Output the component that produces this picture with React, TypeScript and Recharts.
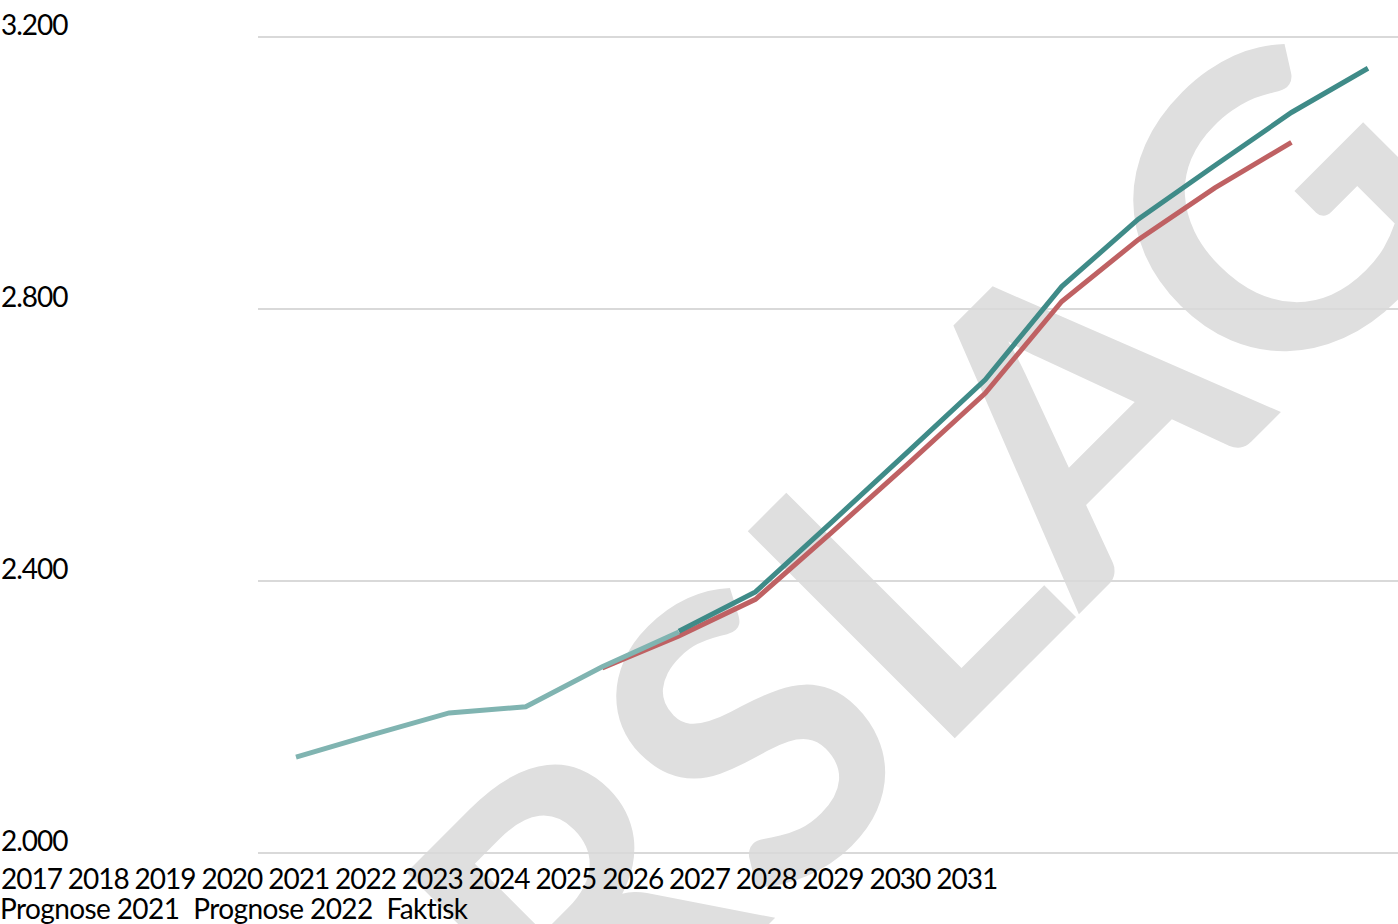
import React from 'react';
import { LineChart, Line, XAxis, YAxis, CartesianGrid, Legend } from 'recharts';

const years = ['2017', '2018', '2019', '2020', '2021', '2022', '2023', '2024', '2025', '2026', '2027', '2028', '2029', '2030', '2031'];
const faktisk: (number | null)[] = [2141, 2174, 2206, 2215, 2274, 2325, null, null, null, null, null, null, null, null, null];
const prognose2021: (number | null)[] = [null, null, null, null, 2272, 2319, 2373, 2472, 2573, 2676, 2811, 2902, 2978, 3045, null];
const prognose2022: (number | null)[] = [null, null, null, null, null, 2326, 2384, 2487, 2591, 2696, 2833, 2932, 3011, 3089, 3154];
const yTicks = [2000, 2400, 2800, 3200];
const seriesNames = ['Prognose 2021', 'Prognose 2022', 'Faktisk'];
const seriesColors = ['#bf6163', '#3f8b88', '#80b4b1'];
const watermark = 'FORSLAG';

const data = years.map((y, i) => ({
  year: y,
  p2021: prognose2021[i],
  p2022: prognose2022[i],
  faktisk: faktisk[i],
}));

const FONT = 'Lato, "Open Sans", sans-serif';

const fmt = (v: number) => String(v).replace(/\B(?=(\d{3})+(?!\d))/g, '.');

const YTick = (props: any) => {
  const { y, payload } = props;
  return (
    <text x={1} y={y - 2} fontFamily={FONT} fontSize={28} letterSpacing={-1} fill="#000">
      {fmt(payload.value)}
    </text>
  );
};

const XTick = (props: any) => {
  const { index, payload } = props;
  return (
    <text x={1 + index * 66.8} y={889} fontFamily={FONT} fontSize={28} letterSpacing={-1} fill="#000">
      {payload.value}
    </text>
  );
};

const LegendContent = (props: any) => {
  const items = [...(props.payload || [])].sort(
    (a: any, b: any) => seriesNames.indexOf(a.value) - seriesNames.indexOf(b.value)
  );
  return (
    <div style={{ fontFamily: FONT, fontSize: 28, letterSpacing: -0.6, whiteSpace: 'nowrap', lineHeight: '31px', color: '#000', textAlign: 'left' }}>
      {items.map((e: any) => (
        <span key={e.value} style={{ marginRight: 14 }}>{e.value}</span>
      ))}
    </div>
  );
};

export default function App() {
  return (
    <div style={{ position: 'absolute', left: 0, top: 0, width: 1398, height: 924, overflow: 'hidden', background: '#fff' }}>
      <svg width={1398} height={924} style={{ position: 'absolute', left: 0, top: 0 }}>
        <text
          x={840}
          y={853}
          transform="rotate(-45 840 853)"
          textAnchor="middle"
          fontFamily={FONT}
          fontWeight={700}
          fontSize={405}
          fill="#dfdfdf"
        >
          {watermark}
        </text>
      </svg>
      <div style={{ position: 'absolute', left: 0, top: 0 }}>
        <LineChart width={1406} height={924} data={data} margin={{ top: 37, right: 0, bottom: 70, left: 257 }}>
          <CartesianGrid vertical={false} stroke="#d9d9d9" strokeWidth={2} />
          <XAxis
            dataKey="year"
            height={1}
            axisLine={false}
            tickLine={false}
            interval={0}
            padding={{ left: 38, right: 38 }}
            tick={<XTick />}
          />
          <YAxis
            width={1}
            domain={[2000, 3200]}
            ticks={yTicks}
            axisLine={false}
            tickLine={false}
            tick={<YTick />}
          />
          <Legend
            layout="horizontal"
            verticalAlign="middle"
            align="center"
            wrapperStyle={{ position: 'absolute', left: 0, top: 893, width: 1398, height: 31 }}
            content={<LegendContent />}
          />
          <Line dataKey="p2021" name={seriesNames[0]} stroke={seriesColors[0]} strokeWidth={5} dot={false} activeDot={false} isAnimationActive={false} />
          <Line dataKey="p2022" name={seriesNames[1]} stroke={seriesColors[1]} strokeWidth={5} dot={false} activeDot={false} isAnimationActive={false} />
          <Line dataKey="faktisk" name={seriesNames[2]} stroke={seriesColors[2]} strokeWidth={5} dot={false} activeDot={false} isAnimationActive={false} />
        </LineChart>
      </div>
    </div>
  );
}
